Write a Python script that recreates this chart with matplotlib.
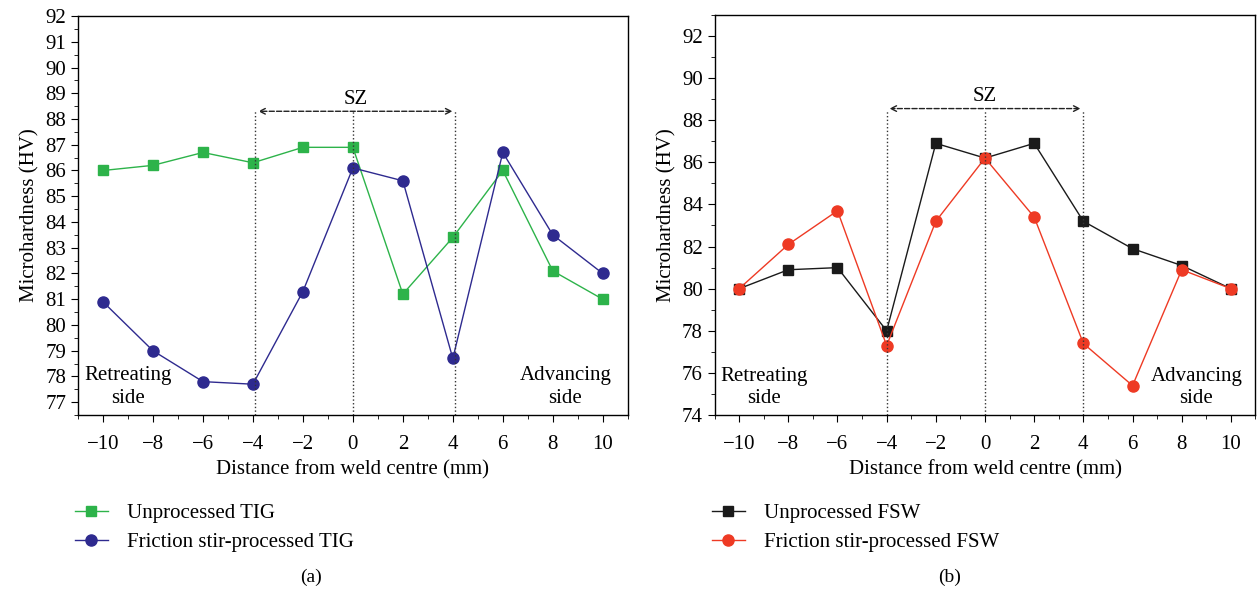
import numpy as np
import matplotlib.pyplot as plt
from matplotlib.ticker import MultipleLocator

plt.rcParams['font.family'] = ['Liberation Serif', 'DejaVu Serif']

# Data
distance = [-10, -8, -6, -4, -2, 0, 2, 4, 6, 8, 10]
tig_unprocessed = [86.0, 86.2, 86.7, 86.3, 86.9, 86.9, 81.2, 83.4, 86.0, 82.1, 81.0]
tig_fsp = [80.9, 79.0, 77.8, 77.7, 81.3, 86.1, 85.6, 78.7, 86.7, 83.5, 82.0]
fsw_unprocessed = [80.0, 80.9, 81.0, 78.0, 86.9, 86.2, 86.9, 83.2, 81.9, 81.1, 80.0]
fsw_fsp = [80.0, 82.1, 83.7, 77.3, 83.2, 86.2, 83.4, 77.4, 75.4, 80.9, 80.0]

fs = 15

fig = plt.figure(figsize=(12.58, 5.93), dpi=100)
ax1 = fig.add_axes([0.062, 0.300, 0.437, 0.673])
ax2 = fig.add_axes([0.568, 0.300, 0.430, 0.675])


def style(ax, ylim, ymaj, ymin):
    ax.set_xlim(-11, 11)
    ax.set_ylim(*ylim)
    ax.xaxis.set_major_locator(MultipleLocator(2))
    ax.xaxis.set_minor_locator(MultipleLocator(1))
    ax.yaxis.set_major_locator(MultipleLocator(ymaj))
    ax.yaxis.set_minor_locator(MultipleLocator(ymin))
    ax.tick_params(which='both', direction='out', top=False, right=False, labelsize=fs)
    ax.tick_params(which='major', length=5)
    ax.tick_params(which='minor', length=3)
    ax.tick_params(axis='x', which='major', pad=9)
    ax.set_xlabel('Distance from weld centre (mm)', fontsize=fs, labelpad=5)
    ax.set_ylabel('Microhardness (HV)', fontsize=fs)
    for s in ax.spines.values():
        s.set_linewidth(1.0)


# (a)
style(ax1, (76.5, 92), 1, 0.5)
ax1.plot(distance, tig_unprocessed, '-s', color='#2db34a', lw=1, ms=7, label='Unprocessed TIG')
ax1.plot(distance, tig_fsp, '-o', color='#2e2a8f', lw=1, ms=8, label='Friction stir-processed TIG')
for xv in [-3.9, 0, 4.1]:
    ax1.plot([xv, xv], [76.5, 88.3], ls=':', color='#333333', lw=1)
ax1.annotate('', xy=(-3.9, 88.3), xytext=(4.1, 88.3),
             arrowprops=dict(arrowstyle='<->', ls='--', color='#222222', lw=1))
ax1.text(0.1, 88.75, 'SZ', ha='center', va='center', fontsize=fs)
ax1.text(-9.0, 77.6, 'Retreating\nside', ha='center', va='center', fontsize=fs, linespacing=1.25)
ax1.text(8.5, 77.6, 'Advancing\nside', ha='center', va='center', fontsize=fs, linespacing=1.25)
ax1.legend(loc='upper left', bbox_to_anchor=(-0.04, -0.175), frameon=False, fontsize=fs,
           handlelength=1.6, handletextpad=0.9, labelspacing=0.45)
fig.text(0.247, 0.018, '(a)', ha='center', fontsize=fs - 1)

# (b)
style(ax2, (74, 93), 2, 1)
ax2.plot(distance, fsw_unprocessed, '-s', color='#1a1a1a', lw=1, ms=7, label='Unprocessed FSW')
ax2.plot(distance, fsw_fsp, '-o', color='#ee3a24', lw=1, ms=8, label='Friction stir-processed FSW')
for xv in [-4, 0, 4]:
    ax2.plot([xv, xv], [74, 88.5], ls=':', color='#333333', lw=1)
ax2.annotate('', xy=(-4, 88.55), xytext=(4, 88.55),
             arrowprops=dict(arrowstyle='<->', ls='--', color='#222222', lw=1))
ax2.text(0, 89.1, 'SZ', ha='center', va='center', fontsize=fs)
ax2.text(-9.0, 75.3, 'Retreating\nside', ha='center', va='center', fontsize=fs, linespacing=1.25)
ax2.text(8.6, 75.3, 'Advancing\nside', ha='center', va='center', fontsize=fs, linespacing=1.25)
ax2.legend(loc='upper left', bbox_to_anchor=(-0.04, -0.175), frameon=False, fontsize=fs,
           handlelength=1.6, handletextpad=0.9, labelspacing=0.45)
fig.text(0.755, 0.018, '(b)', ha='center', fontsize=fs - 1)

fig.savefig('out.png', dpi=100)
